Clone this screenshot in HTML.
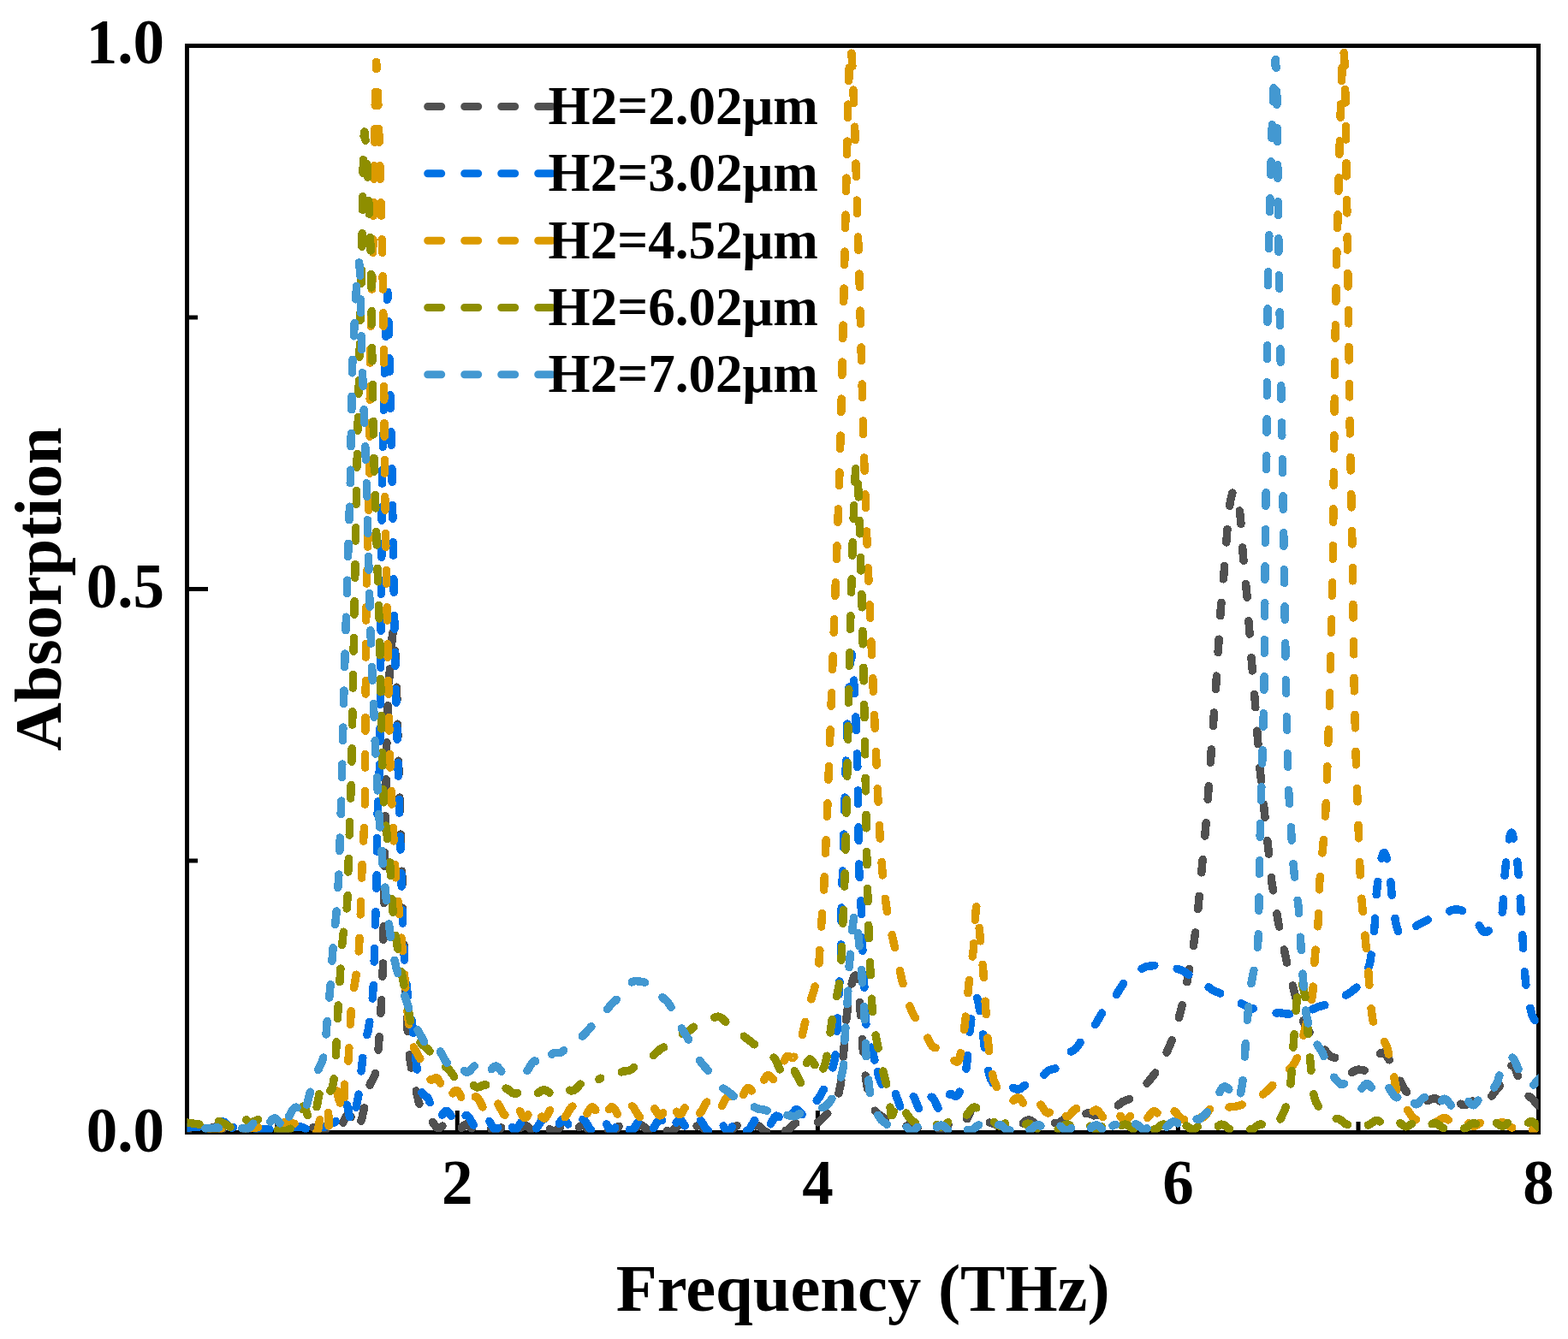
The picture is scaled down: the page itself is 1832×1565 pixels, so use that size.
<!DOCTYPE html>
<html><head><meta charset="utf-8"><title>Absorption vs Frequency</title>
<style>
html,body{margin:0;padding:0;background:#fff;}
svg{display:block;}
text{font-family:"Liberation Serif","Times New Roman",serif;font-weight:bold;fill:#000;}
</style></head>
<body>
<svg width="1832" height="1565" viewBox="0 0 1832 1565">
<rect x="0" y="0" width="1832" height="1565" fill="#fff"/>
<defs><clipPath id="pc"><rect x="218.5" y="53.5" width="1579.0" height="1270.0"/></clipPath></defs>
<g stroke="#000" stroke-width="5" fill="none">
<rect x="218.5" y="53.5" width="1579.0" height="1270.0"/>
<line x1="534.3" y1="1323.5" x2="534.3" y2="1298"/><line x1="955.4" y1="1323.5" x2="955.4" y2="1298"/><line x1="1376.4" y1="1323.5" x2="1376.4" y2="1298"/><line x1="323.8" y1="1323.5" x2="323.8" y2="1311"/><line x1="744.8" y1="1323.5" x2="744.8" y2="1311"/><line x1="1165.9" y1="1323.5" x2="1165.9" y2="1311"/><line x1="1587.0" y1="1323.5" x2="1587.0" y2="1311"/><line x1="218.5" y1="688.5" x2="243" y2="688.5"/><line x1="218.5" y1="1006.0" x2="231" y2="1006.0"/><line x1="218.5" y1="371.0" x2="231" y2="371.0"/>
</g>
<g font-size="73" text-anchor="end">
<text x="191.9" y="74.1">1.0</text>
<text x="191.9" y="709.7">0.5</text>
<text x="191.9" y="1345.5">0.0</text>
</g>
<g font-size="73" text-anchor="middle">
<text x="534.3" y="1406.7">2</text>
<text x="955.4" y="1406.7">4</text>
<text x="1376.4" y="1406.7">6</text>
<text x="1797.5" y="1406.7">8</text>
</g>
<text font-size="78.6" x="719.7" y="1531.8">Frequency (THz)</text>
<text font-size="78.3" transform="translate(71,877.8) rotate(-90)" x="0" y="0">Absorption</text>
<g fill="none" shape-rendering="crispEdges" stroke-width="9.5" stroke-linecap="round" stroke-linejoin="round" stroke-dasharray="15.5 27.5" clip-path="url(#pc)">
<path d="M218.0,1321.9L225.8,1318.2 227.9,1317.7 231.4,1318.3 236.4,1320.7 239.0,1321.3 241.6,1321.0 248.3,1317.7 250.8,1317.1 253.3,1317.5 259.0,1320.2 262.0,1321.0 265.0,1320.5 271.1,1317.6 274.1,1317.3 277.1,1318.3 282.1,1321.0 285.0,1321.7 287.0,1321.4 293.0,1318.6 296.0,1318.0 299.0,1318.6 304.0,1321.1 307.0,1321.9 310.0,1321.4 316.0,1318.2 318.0,1317.6 321.0,1317.8 327.0,1320.5 330.0,1321.2 333.0,1320.5 338.0,1317.9 341.0,1317.0 344.1,1317.5 349.4,1320.2 352.6,1321.1 355.8,1320.4 361.2,1317.8 364.4,1317.3 367.4,1318.2 374.2,1321.5 377.6,1321.5 382.4,1319.6 384.7,1319.2 390.7,1322.3 393.4,1322.5 395.7,1321.6 397.6,1319.5 403.6,1306.2 405.4,1304.1 407.2,1303.0 408.0,1303.0 409.1,1303.9 417.0,1319.5 418.3,1319.9 420.0,1317.2 422.8,1307.1 425.5,1294.9 427.5,1282.9 429.2,1276.9 433.0,1266.0 437.8,1257.2 439.6,1251.7 441.1,1240.6 443.5,1206.3 446.2,1160.0 447.5,1127.0 451.6,875.6 452.8,836.0 454.2,801.4 456.3,769.3 458.3,744.0 459.7,736.0 460.4,739.3 461.2,750.1 463.4,799.8 465.7,895.5 469.9,1027.9 470.7,1079.0 472.7,1119.6 475.0,1185.9 477.5,1223.5 478.9,1237.6 480.8,1249.4 489.0,1287.2 491.2,1295.0 492.5,1298.1 494.0,1300.1 499.4,1302.8 500.9,1304.2 507.5,1314.6 510.1,1317.7 512.0,1318.5 513.9,1318.2 520.0,1313.9 522.6,1313.5 525.4,1315.0 531.3,1321.0 533.3,1321.9 534.4,1321.9 536.4,1320.9 542.8,1314.7 545.0,1314.0 547.8,1315.1 553.5,1321.1 556.5,1322.4 559.5,1321.2 564.5,1316.1 567.6,1314.7 570.7,1316.1 575.9,1321.5 579.0,1323.0 581.9,1321.8 587.6,1316.2 590.4,1315.1 593.3,1316.3 599.0,1322.0 601.9,1323.1 604.9,1321.6 610.0,1316.3 612.1,1315.1 613.2,1315.0 616.6,1316.8 621.7,1322.0 624.2,1323.0 626.8,1322.1 633.2,1315.9 636.0,1315.0 638.8,1316.5 644.6,1322.2 646.6,1323.0 649.6,1322.0 655.7,1316.0 658.8,1315.0 661.9,1316.8 667.1,1322.1 669.2,1323.0 670.2,1322.9 672.4,1321.9 677.7,1316.5 680.9,1315.0 684.1,1316.4 689.4,1321.8 691.5,1322.9 692.6,1323.0 695.8,1321.2 700.9,1316.0 703.8,1315.0 706.7,1316.4 711.5,1321.4 714.4,1323.0 717.3,1322.1 723.2,1316.2 726.2,1315.0 729.2,1316.3 734.2,1321.4 737.2,1323.0 740.2,1321.9 746.3,1315.9 749.3,1315.0 752.3,1316.8 757.4,1322.0 760.5,1323.0 763.5,1321.3 768.6,1316.1 771.7,1315.0 774.7,1316.6 779.8,1321.8 782.9,1323.0 785.9,1321.5 792.0,1315.6 794.0,1315.0 797.0,1316.3 802.0,1321.4 805.1,1323.0 808.2,1321.9 813.4,1316.6 816.6,1315.1 819.8,1316.5 825.1,1321.9 827.3,1323.1 828.4,1323.1 830.5,1322.2 837.0,1316.0 839.2,1315.3 840.3,1315.4 842.5,1316.8 847.9,1322.2 850.0,1323.3 851.1,1323.3 853.2,1322.4 859.5,1316.3 861.6,1315.5 864.7,1316.6 869.8,1321.8 872.8,1323.4 875.7,1322.5 881.4,1316.8 884.2,1315.4 886.9,1316.2 892.9,1322.0 894.6,1322.9 896.2,1323.1 899.3,1321.4 904.9,1315.6 907.2,1314.6 908.3,1314.8 910.5,1316.0 915.8,1321.0 918.8,1321.8 921.6,1320.2 927.1,1314.1 929.8,1312.7 931.5,1313.3 936.1,1316.3 938.4,1316.8 940.6,1316.4 944.9,1314.8 952.5,1313.0 956.0,1311.5 958.5,1309.7 972.5,1295.7 976.2,1289.7 979.3,1280.7 982.2,1267.1 983.4,1257.9 988.6,1193.4 991.3,1170.0 994.6,1151.5 997.4,1142.2 999.0,1140.0 999.9,1141.0 1001.0,1144.7 1003.7,1160.1 1008.4,1228.3 1010.7,1253.7 1012.7,1268.2 1016.8,1288.0 1018.6,1292.5 1020.6,1295.9 1023.2,1299.2 1027.0,1302.7 1032.2,1306.3 1037.5,1309.3 1040.1,1310.5 1046.6,1312.2 1053.6,1317.1 1055.7,1317.7 1057.8,1317.3 1062.7,1314.0 1065.5,1313.2 1068.5,1314.6 1074.7,1320.2 1077.8,1320.8 1080.0,1319.8 1085.2,1315.1 1088.4,1313.9 1091.4,1315.1 1097.3,1320.0 1100.0,1320.5 1102.2,1319.5 1107.8,1314.6 1111.0,1313.4 1113.1,1314.0 1117.1,1317.0 1119.9,1317.5 1122.6,1316.0 1127.2,1311.9 1129.8,1307.9 1134.9,1296.9 1136.4,1294.8 1138.0,1294.0 1139.2,1294.3 1141.0,1296.0 1147.0,1305.9 1150.0,1309.0 1155.3,1311.8 1162.4,1313.9 1167.8,1316.3 1170.9,1316.3 1176.4,1312.7 1179.3,1311.8 1182.2,1312.7 1187.2,1315.8 1190.3,1316.2 1193.4,1314.5 1198.9,1309.8 1201.8,1308.9 1204.6,1309.8 1210.6,1313.9 1212.7,1314.3 1215.9,1313.0 1221.2,1308.7 1224.5,1307.8 1226.6,1308.4 1233.0,1312.7 1236.1,1313.1 1239.0,1311.5 1243.7,1307.4 1246.4,1306.2 1249.2,1306.5 1255.7,1310.1 1258.6,1310.0 1261.5,1308.0 1267.1,1302.3 1270.0,1301.1 1272.0,1301.2 1278.1,1303.9 1281.1,1303.5 1283.1,1302.2 1288.6,1296.1 1291.0,1294.1 1294.2,1293.3 1300.0,1294.9 1302.3,1294.6 1304.8,1293.1 1311.4,1287.8 1320.1,1284.2 1326.3,1279.7 1333.6,1273.0 1340.8,1265.3 1348.1,1256.3 1353.3,1248.9 1357.9,1241.0 1366.5,1222.6 1370.7,1212.2 1374.2,1201.6 1381.9,1172.0 1385.7,1154.0 1394.5,1105.0 1398.3,1078.1 1409.4,959.0 1420.5,805.0 1426.3,712.0 1430.6,663.0 1434.9,606.1 1436.1,594.2 1438.0,583.7 1439.8,576.4 1440.8,574.2 1441.4,573.7 1442.1,574.2 1443.4,576.6 1446.5,586.8 1447.9,594.2 1449.5,606.3 1452.1,646.0 1456.7,693.9 1461.8,766.0 1466.2,818.0 1471.8,895.9 1486.0,1032.0 1493.3,1077.1 1503.7,1125.7 1516.7,1176.5 1520.3,1188.0 1523.9,1196.1 1527.5,1202.5 1532.6,1210.2 1535.6,1213.7 1543.2,1220.1 1551.2,1231.9 1555.0,1234.9 1560.3,1236.4 1563.4,1238.2 1566.6,1241.8 1572.4,1250.4 1575.8,1253.3 1577.5,1253.6 1579.3,1253.4 1585.0,1250.5 1587.1,1250.1 1594.3,1251.1 1597.0,1250.5 1600.5,1247.2 1606.5,1237.4 1610.4,1233.0 1614.1,1230.3 1615.6,1230.2 1617.0,1230.7 1619.3,1233.0 1628.1,1245.8 1637.0,1266.0 1642.1,1274.9 1644.3,1276.8 1645.8,1277.5 1652.0,1277.9 1654.3,1278.6 1656.9,1280.4 1662.7,1285.6 1664.7,1286.7 1667.9,1286.8 1673.3,1284.3 1676.5,1283.8 1679.8,1285.2 1685.1,1289.2 1688.1,1290.3 1691.1,1289.7 1697.3,1286.6 1699.4,1286.4 1702.5,1287.5 1708.6,1291.4 1711.6,1291.7 1714.4,1290.4 1719.1,1287.3 1722.2,1286.4 1724.4,1286.9 1730.9,1290.5 1733.9,1290.6 1735.8,1289.6 1738.4,1287.1 1748.0,1274.2 1751.6,1270.1 1755.2,1264.0 1762.3,1248.9 1765.0,1245.9 1767.0,1245.2 1768.6,1246.1 1770.3,1248.9 1778.5,1272.1 1781.0,1277.2 1783.3,1279.4 1789.8,1283.7 1797.0,1291.8 1800.0,1294.4" stroke="#505050" stroke-dashoffset="13.9"/>
<path d="M218.0,1318.0L230.4,1317.3 239.0,1316.2 243.1,1315.0 252.7,1310.7 257.1,1310.0 260.2,1310.7 263.0,1312.0 268.4,1317.2 270.0,1318.0 271.9,1317.9 278.0,1316.0 280.7,1316.4 287.6,1318.5 292.5,1319.3 303.4,1320.0 316.2,1320.1 326.5,1319.6 350.2,1316.9 353.1,1317.3 358.1,1319.7 360.0,1320.0 361.7,1319.2 366.6,1314.4 368.0,1314.0 369.2,1315.2 371.2,1319.5 372.7,1320.1 375.2,1319.4 383.0,1315.0 391.3,1311.6 392.6,1310.1 394.1,1305.3 395.0,1304.0 398.0,1305.8 399.4,1305.7 401.1,1302.1 403.6,1293.2 405.0,1291.0 406.3,1293.9 409.0,1309.0 410.2,1312.9 411.0,1312.7 411.9,1311.3 414.3,1303.2 419.2,1278.4 425.1,1224.6 426.2,1218.7 429.8,1206.2 432.4,1190.6 435.1,1168.2 436.5,1148.9 439.9,1033.0 441.2,951.1 443.8,888.7 446.6,552.7 449.1,450.1 451.8,359.4 452.8,341.5 453.4,352.6 457.9,545.8 460.7,722.5 462.8,817.4 470.5,1077.9 472.6,1124.2 475.1,1153.7 478.2,1176.1 481.6,1196.6 487.3,1250.9 489.4,1265.3 491.1,1272.0 492.9,1276.8 495.0,1279.7 498.5,1282.1 500.2,1283.9 509.3,1305.0 511.1,1306.8 513.0,1306.9 514.9,1305.3 520.0,1299.0 521.8,1298.3 522.7,1298.5 525.6,1301.5 531.5,1312.5 533.6,1314.2 534.6,1314.3 536.7,1312.8 542.7,1304.4 544.5,1303.4 545.5,1303.5 548.3,1306.3 554.1,1316.5 556.1,1318.1 557.1,1318.1 559.2,1316.6 565.6,1307.3 567.8,1306.3 568.9,1306.7 570.9,1308.9 576.2,1318.0 578.1,1319.7 579.0,1320.0 579.9,1319.8 581.8,1318.3 587.5,1309.1 589.5,1307.5 590.5,1307.3 591.5,1307.6 593.5,1309.6 599.6,1319.3 601.6,1320.4 602.7,1320.1 604.8,1318.1 610.1,1309.4 612.3,1307.5 613.4,1307.5 615.6,1309.0 620.9,1317.8 623.6,1320.4 624.5,1320.6 626.3,1319.7 632.8,1309.6 634.7,1308.0 635.6,1307.7 636.6,1308.0 638.5,1309.7 644.3,1319.2 646.3,1320.8 647.2,1320.9 648.2,1320.5 650.2,1318.5 655.2,1310.2 657.3,1308.3 658.3,1308.1 659.3,1308.4 661.3,1310.3 667.5,1320.1 669.6,1321.2 670.6,1321.0 672.7,1319.0 678.9,1309.3 681.0,1308.3 683.1,1309.6 689.4,1319.6 691.6,1321.3 692.6,1321.4 694.7,1319.9 700.9,1310.1 702.9,1308.6 703.8,1308.5 704.8,1308.9 706.7,1310.9 712.6,1320.3 714.6,1321.5 715.6,1321.4 717.6,1319.8 722.6,1311.5 724.6,1309.2 725.7,1308.6 726.7,1308.7 728.7,1310.2 733.9,1318.6 735.9,1321.0 736.9,1321.5 738.0,1321.5 740.1,1320.0 745.2,1311.5 747.3,1309.1 748.3,1308.6 749.4,1308.7 751.5,1310.3 756.6,1318.8 758.7,1321.1 759.7,1321.5 760.7,1321.5 762.8,1319.8 767.9,1311.4 769.9,1309.1 771.0,1308.6 772.0,1308.6 774.0,1310.1 780.0,1319.7 781.9,1321.4 782.9,1321.5 783.9,1321.2 785.9,1319.2 790.7,1311.1 793.5,1308.6 794.5,1308.5 796.3,1309.8 802.2,1319.1 804.4,1321.3 805.4,1321.5 806.5,1321.2 808.7,1318.9 814.1,1310.2 816.3,1308.7 817.3,1308.7 819.5,1310.5 824.8,1319.4 826.9,1321.5 828.0,1321.8 830.1,1320.8 836.3,1311.1 838.3,1309.2 839.3,1308.9 840.3,1309.2 842.3,1311.1 847.3,1319.4 849.2,1321.5 850.2,1321.9 851.2,1321.9 853.1,1320.5 858.7,1311.4 861.4,1308.9 862.3,1308.9 864.0,1309.8 870.0,1319.0 872.3,1321.2 873.5,1321.3 875.7,1319.6 881.2,1310.3 883.3,1307.9 884.3,1307.4 885.4,1307.5 887.4,1309.0 893.3,1317.8 895.2,1319.0 896.1,1319.0 898.9,1316.5 905.0,1305.7 907.2,1304.1 909.3,1304.7 915.2,1312.5 917.0,1314.1 918.0,1314.3 918.9,1314.0 920.8,1312.2 926.4,1301.0 929.3,1297.3 930.2,1296.8 932.1,1297.3 938.8,1304.6 939.7,1305.0 941.5,1303.6 948.0,1292.5 952.3,1288.9 957.3,1282.4 965.2,1268.3 969.6,1258.1 972.9,1248.1 975.4,1238.1 976.7,1229.3 982.5,1116.0 983.1,1065.2 989.7,850.4 993.1,781.6 994.1,768.3 994.9,764.0 995.9,769.1 997.0,784.4 1000.6,855.1 1002.2,910.3 1003.7,1016.0 1006.6,1068.0 1007.7,1108.0 1010.0,1157.0 1010.8,1185.3 1011.7,1196.1 1013.6,1207.0 1021.9,1239.0" stroke="#0071e4" stroke-dashoffset="0.0"/>
<path d="M1021.9,1239.0L1027.1,1259.7 1033.5,1275.0 1035.5,1277.2 1036.9,1277.3 1042.2,1272.4 1043.8,1273.5 1046.3,1278.5 1051.7,1293.4 1053.6,1296.2 1054.6,1296.7 1055.6,1296.4 1057.6,1293.8 1062.8,1282.6 1064.8,1280.3 1065.9,1280.3 1068.0,1282.4 1074.0,1296.9 1076.0,1299.7 1077.1,1300.1 1079.1,1298.6 1085.3,1285.2 1087.3,1282.6 1088.3,1282.2 1089.2,1282.5 1091.1,1284.9 1097.1,1297.3 1099.1,1298.7 1100.1,1298.4 1102.0,1295.7 1106.6,1283.4 1109.2,1279.2 1111.0,1278.5 1115.5,1281.1 1117.1,1281.4 1118.6,1280.6 1120.0,1278.9 1124.4,1268.9 1128.0,1255.2" stroke="#0071e4" stroke-dashoffset="29.0"/>
<path d="M1128.0,1255.2L1129.5,1245.0 1131.8,1215.9 1135.1,1188.5 1138.5,1171.5 1139.8,1167.3 1141.0,1165.5 1142.5,1168.6 1144.3,1178.4 1147.2,1197.4 1150.8,1228.5 1153.3,1244.0 1155.4,1254.4 1157.7,1261.3 1161.9,1268.6 1164.1,1270.5 1167.5,1272.3 1171.3,1272.9 1177.8,1270.1 1180.0,1269.6 1186.6,1272.8 1189.6,1273.4 1192.6,1272.2 1200.9,1265.5 1203.6,1264.8 1210.2,1265.2 1212.8,1264.2 1215.4,1261.9 1221.4,1254.3 1224.0,1251.8 1226.6,1250.5 1232.4,1249.2 1235.6,1247.2 1238.5,1243.8 1246.5,1232.4 1249.3,1230.1 1254.9,1227.1 1257.6,1224.8 1260.2,1221.3 1269.3,1206.7 1271.8,1204.0 1277.9,1199.2 1280.3,1196.5 1291.1,1177.9 1294.2,1174.0 1302.1,1166.2 1310.5,1152.6 1313.9,1148.0 1317.6,1144.6 1333.6,1132.6 1339.5,1129.7 1348.5,1128.5 1355.7,1126.9 1358.8,1126.8 1361.9,1127.3 1370.0,1130.8 1379.6,1133.5 1384.2,1135.9 1394.1,1143.1 1405.5,1148.6 1416.7,1157.2 1428.3,1162.2 1439.4,1169.4 1450.2,1172.8 1461.4,1178.5 1473.0,1180.1 1484.0,1183.9 1487.1,1184.2 1495.1,1183.7 1504.0,1185.2 1508.1,1185.2 1518.1,1182.4 1529.0,1181.6 1540.7,1176.6 1552.3,1173.6 1562.8,1167.0 1573.6,1162.7 1579.2,1158.9 1588.7,1150.9 1591.8,1147.7 1594.7,1143.2 1597.1,1137.7 1600.8,1124.3 1603.6,1105.3 1606.3,1079.7 1608.2,1045.2 1611.1,1018.8 1613.9,1003.9 1616.3,997.0 1617.4,996.7 1618.6,998.4 1622.5,1009.7 1623.9,1019.0 1626.3,1047.9 1630.6,1077.7 1633.2,1087.6 1634.6,1090.5 1636.5,1092.6 1639.5,1093.7 1643.3,1092.5 1655.9,1081.3 1667.5,1075.4 1675.2,1070.6 1679.4,1069.1 1687.8,1067.4 1696.8,1063.5 1700.5,1062.8 1703.8,1063.0 1707.5,1064.1 1715.8,1067.0 1720.0,1069.3 1723.3,1073.1 1731.4,1087.2 1733.9,1089.4 1736.0,1089.6 1738.4,1088.5 1740.9,1086.7 1749.2,1078.8 1753.0,1073.6 1754.8,1069.0 1756.1,1060.5 1756.8,1035.9 1760.5,998.5 1763.6,979.5 1764.8,975.1 1766.0,973.2 1766.8,974.0 1767.5,976.1 1769.4,984.4 1771.7,998.3 1773.3,1012.4 1775.8,1043.1 1781.4,1136.7 1783.0,1152.2 1786.5,1173.3 1789.8,1185.5 1791.3,1189.3 1793.5,1192.9 1800.0,1200.8" stroke="#0071e4" stroke-dashoffset="36.9"/>
<path d="M218.0,1319.0L279.4,1319.0 293.3,1318.6 305.4,1317.2 326.9,1312.5 334.4,1311.9 340.1,1312.4 347.0,1314.1 365.1,1320.6 369.4,1323.0 370.4,1323.0 371.7,1320.1 373.4,1309.4 374.4,1307.0 375.7,1308.4 381.4,1320.6 383.5,1323.0 384.2,1320.2 383.7,1301.0 384.4,1293.7 386.1,1287.6 389.9,1278.3 391.4,1276.0 392.5,1275.1 393.5,1275.0 394.1,1276.0 395.3,1283.0 398.9,1293.4 401.3,1298.6 402.1,1298.9 402.4,1297.8 402.3,1268.6 403.0,1264.7 405.4,1257.3 406.5,1248.9 410.5,1176.0 412.1,1163.0 417.4,1132.0 419.2,1113.0 421.0,1077.0 423.3,1003.0 426.3,955.1 427.9,701.3 431.9,555.9 432.5,409.9 435.6,300.0 438.5,106.1 439.7,72.5 441.3,104.2 447.0,307.2 448.4,412.9 449.6,573.4 454.4,835.6 456.1,902.7 460.6,995.9 462.4,1024.7 468.8,1093.3 475.9,1180.6 479.1,1209.9 480.3,1216.4 482.2,1222.0 491.8,1239.2 498.4,1255.2 500.6,1259.5 502.5,1261.6 503.9,1262.1 505.2,1261.9 509.6,1259.6 511.2,1260.3 514.3,1265.4 520.0,1279.6 522.6,1282.9 523.5,1283.1 525.3,1282.4 530.9,1275.6 532.7,1274.5 533.6,1274.6 534.5,1275.1 536.4,1277.5 542.3,1289.6 544.3,1292.1 545.3,1292.5 546.3,1292.4 548.2,1290.9 553.9,1282.6 556.0,1281.7 557.0,1282.0 560.1,1286.1 565.0,1296.2 567.0,1298.4 568.0,1298.8 569.0,1298.6 571.0,1296.8 576.0,1289.0 577.9,1287.4 578.9,1287.2 579.9,1287.6 581.8,1289.8 587.8,1301.2 589.8,1303.1 590.8,1303.3 591.9,1302.9 593.9,1300.7 598.8,1292.7 600.8,1291.1 601.8,1291.1 602.8,1291.6 604.8,1294.0 610.9,1305.1 612.9,1306.5 613.9,1306.4 616.0,1304.5 621.0,1295.9 623.0,1293.6 624.0,1293.2 625.0,1293.3 626.9,1295.0 632.9,1305.3 634.9,1307.0 635.9,1307.1 636.9,1306.6 639.0,1304.2 644.0,1295.2 646.0,1293.2 647.0,1293.0 648.0,1293.3 649.9,1295.3 654.9,1304.1 656.9,1306.4 657.8,1306.9 658.8,1306.8 660.8,1305.2 665.9,1296.3 667.9,1293.7 669.0,1293.1 670.0,1293.1 671.9,1294.5 677.9,1304.9 679.9,1307.1 680.9,1307.4 681.9,1307.2 683.9,1305.2 688.9,1296.4 691.0,1294.2 692.0,1293.9 693.0,1294.1 695.0,1296.0 700.0,1304.9 702.0,1307.4 703.0,1307.9 704.0,1307.9 706.0,1306.3 712.1,1295.7 714.1,1293.9 715.1,1293.7 716.1,1294.1 718.1,1296.2 723.1,1304.9 725.0,1306.9 726.0,1307.2 727.0,1306.9 729.0,1304.9 734.1,1295.5 736.2,1293.0 737.2,1292.5 738.2,1292.6 740.2,1294.2 745.3,1302.9 747.3,1305.2 748.3,1305.6 749.4,1305.4 751.4,1303.6 757.5,1292.6 759.5,1290.9 760.5,1290.8 762.6,1292.2 768.7,1302.2 770.7,1303.8 771.7,1303.8 773.8,1302.3 779.9,1291.4 781.9,1289.4 782.9,1289.1 783.9,1289.4 785.9,1291.5 792.0,1301.7 794.0,1302.7 795.1,1302.4 797.1,1300.3 802.1,1291.2 804.1,1288.9 805.1,1288.5 806.2,1288.6 808.2,1290.3 813.2,1298.9 815.2,1301.2 816.3,1301.6 817.3,1301.4 819.3,1299.4 824.4,1289.8 826.5,1287.0 827.5,1286.3 828.5,1286.2 830.5,1287.4 836.5,1296.7 838.5,1298.1 839.5,1298.0 841.5,1296.3 847.4,1284.7 850.3,1281.2 851.2,1281.0 853.1,1282.0 858.9,1290.0 860.8,1291.3 861.7,1291.2 862.7,1290.7 864.6,1288.1 870.8,1274.6 873.5,1271.7 874.4,1271.6 876.2,1272.4 880.6,1277.9 882.3,1279.3 884.1,1279.5 884.9,1278.9 887.5,1275.1 893.2,1261.0 895.7,1257.4 896.5,1256.9 898.0,1256.8 899.6,1257.7 904.2,1262.1 906.5,1262.1 908.0,1260.7 909.4,1258.1 915.7,1240.8 918.3,1235.8 919.6,1234.7 920.9,1234.4 925.3,1236.4 926.5,1236.5 928.8,1234.2 932.0,1226.9 937.1,1210.5 944.1,1180.0 952.3,1152.8 955.3,1140.0 957.0,1125.2 958.5,1098.0 962.6,1040.5 966.9,939.6 980.5,566.7 983.1,469.4 991.0,114.9 992.5,71.0 993.2,60.5 993.9,57.0 994.9,62.7 996.0,79.9 998.7,150.1 1004.3,334.0 1008.8,513.6 1012.6,624.0 1025.3,923.1 1028.1,977.3 1030.6,1014.6 1033.6,1045.7 1037.2,1070.0 1053.9,1146.1 1061.7,1172.5 1065.3,1182.4 1068.7,1188.5 1074.6,1195.1 1077.3,1199.2 1087.2,1220.0 1088.9,1222.4 1091.2,1224.2 1097.1,1225.6 1099.6,1226.8 1102.1,1229.2 1107.0,1235.8 1109.8,1238.0 1114.0,1239.2 1118.1,1241.1 1119.0,1241.0 1119.9,1240.2 1120.9,1237.7 1123.8,1223.9 1125.6,1212.3 1128.2,1189.4 1132.1,1148.5 1137.3,1110.1 1140.0,1064.8 1141.0,1058.5 1141.7,1060.9 1142.6,1068.2 1148.7,1133.0 1154.1,1215.1 1158.4,1250.7 1161.1,1262.5 1165.2,1271.9 1169.3,1277.3 1173.0,1280.5 1178.3,1286.2 1180.3,1287.4 1182.3,1287.3 1183.4,1286.8 1187.8,1283.1 1190.5,1283.1 1193.4,1285.9 1198.4,1293.6 1200.4,1295.6 1201.5,1296.0 1202.5,1296.0 1204.6,1294.8 1209.8,1289.4 1211.9,1288.4 1213.0,1288.6 1216.0,1291.2 1221.8,1299.6 1223.8,1300.8 1224.8,1300.9 1226.8,1300.0 1232.7,1293.8 1234.7,1293.0 1235.7,1293.1 1238.8,1295.7 1243.9,1302.9 1245.9,1304.5 1246.9,1304.7 1248.0,1304.5 1250.0,1303.1 1254.9,1297.3 1256.9,1296.0 1257.9,1295.8 1258.9,1296.1 1260.9,1297.7 1266.0,1304.5 1268.1,1306.2 1269.1,1306.5 1270.1,1306.4 1272.1,1305.1 1277.2,1298.9 1280.2,1297.0 1281.2,1297.2 1283.2,1298.5 1288.2,1305.1 1291.4,1307.6 1292.4,1307.7 1294.5,1306.7 1299.6,1300.6 1302.7,1298.6 1303.7,1298.7 1305.7,1300.0 1311.8,1307.9 1313.9,1309.2 1314.9,1309.3 1317.9,1307.4 1323.0,1301.1 1325.0,1299.7 1326.0,1299.6 1329.0,1301.4 1335.0,1308.5 1337.0,1309.2 1338.0,1309.0 1340.0,1307.6 1346.0,1299.9 1348.0,1298.7 1349.0,1298.7 1351.0,1299.7 1357.0,1307.0 1359.0,1308.3 1360.0,1308.4 1362.0,1307.5 1368.0,1300.2 1370.0,1298.8 1371.0,1298.6 1372.0,1298.8 1374.1,1300.3 1379.1,1306.8 1382.1,1308.7 1383.1,1308.7 1385.0,1307.4 1391.0,1299.7 1393.0,1298.2 1394.0,1298.0 1397.1,1299.6 1402.1,1305.3 1404.1,1306.4 1405.1,1306.4 1408.1,1304.2 1413.1,1296.9 1416.0,1294.4 1417.0,1294.3 1418.9,1295.0 1423.8,1299.8 1425.9,1300.7 1426.9,1300.7 1428.9,1299.8 1436.0,1294.0 1438.0,1293.5 1443.9,1293.3 1450.6,1291.3 1463.1,1286.5 1472.1,1281.7 1480.1,1275.6 1495.8,1259.3 1507.8,1248.5 1512.3,1242.9 1515.7,1236.3 1519.1,1225.9 1528.7,1187.0 1531.9,1172.0 1533.9,1159.0 1536.1,1121.0 1540.2,1077.0 1541.6,1033.0 1546.9,976.4 1549.2,941.8 1553.5,818.1 1557.2,659.6 1560.0,399.9 1561.7,301.0 1566.6,119.2 1568.4,72.5 1569.8,56.5 1571.0,73.1 1572.1,122.6 1577.4,510.5 1580.0,640.0 1582.1,795.8 1584.2,885.3 1588.3,1001.0 1590.3,1045.0 1598.6,1133.0 1601.3,1172.9 1603.7,1190.9 1605.7,1199.1 1609.0,1207.0 1612.7,1212.9 1617.3,1216.9 1620.5,1223.8 1627.7,1253.1 1632.2,1277.6 1634.6,1285.7 1637.1,1289.9 1644.0,1296.6 1650.0,1305.4 1652.7,1308.1 1654.7,1308.8 1656.7,1308.4 1662.9,1304.5 1665.1,1304.1 1667.3,1304.8 1673.3,1309.9 1676.3,1311.4 1679.4,1310.8 1684.7,1307.3 1687.8,1306.5 1690.9,1307.8 1696.0,1312.3 1698.0,1313.5 1701.0,1313.7 1707.0,1310.2 1710.1,1309.3 1713.2,1310.4 1718.5,1314.9 1721.4,1316.2 1724.3,1315.8 1730.3,1311.6 1733.3,1310.7 1736.4,1312.0 1741.7,1316.1 1744.8,1317.0 1746.9,1316.5 1753.0,1312.3 1755.1,1311.6 1758.2,1312.4 1763.7,1316.8 1767.0,1318.2 1769.2,1317.9 1775.7,1313.6 1777.8,1313.0 1780.8,1313.8 1787.0,1319.0 1789.9,1320.2 1792.7,1319.7 1797.8,1316.7 1800.0,1316.1" stroke="#dc9a00" stroke-dashoffset="17.7"/>
<path d="M218.0,1312.0L232.0,1314.0 241.4,1318.5 244.2,1319.1 245.8,1318.7 247.2,1317.4 251.5,1310.9 253.0,1310.0 254.6,1310.0 258.3,1311.3 272.7,1319.3 276.2,1320.2 277.7,1319.6 278.9,1318.3 282.9,1309.4 283.9,1307.8 285.0,1307.0 286.6,1307.5 290.0,1311.0 292.0,1312.0 294.7,1311.6 300.9,1308.7 304.0,1307.9 305.8,1308.2 308.1,1309.5 316.7,1317.9 320.0,1320.0 328.1,1321.9 332.2,1321.9 335.1,1321.3 338.6,1319.7 341.9,1317.2 348.4,1309.7 350.5,1305.9 353.3,1295.0 354.0,1293.6 354.7,1293.0 355.5,1293.5 356.7,1296.0 361.7,1309.8 362.6,1310.9 363.9,1310.6 366.4,1305.7 370.1,1294.1 373.3,1276.7 375.4,1268.6 376.6,1265.8 377.6,1265.0 378.7,1265.6 384.2,1273.8 386.0,1275.0 386.8,1274.4 387.9,1272.4 389.5,1265.6 391.7,1248.8 394.5,1188.0 399.3,1108.6 400.7,1094.4 405.1,1063.1 406.3,1045.0 406.9,1016.0 410.6,904.5 417.1,541.7 422.8,299.2 424.5,177.9 425.1,159.7 425.8,154.0 427.2,165.4 429.2,198.9 433.6,304.2 434.7,409.9 436.8,530.8 443.6,743.0 446.3,879.5 448.0,930.3 449.8,955.2 455.2,1001.9 458.5,1058.6 460.7,1083.0 466.4,1121.0 480.2,1197.2 482.9,1205.7 486.6,1212.7 492.9,1220.6 499.3,1225.8 501.9,1228.7 509.4,1241.2 511.5,1243.9 514.5,1245.8 519.8,1246.7 522.9,1248.4 525.4,1251.1 530.6,1258.4 533.3,1261.0 536.0,1261.9 542.5,1260.3 545.4,1260.7 548.3,1263.0 554.0,1269.4 556.9,1270.9 559.9,1270.6 564.8,1268.1 567.9,1267.9 570.9,1269.7 576.0,1274.6 578.0,1275.9 581.1,1276.1 587.1,1272.5 590.2,1271.8 593.2,1272.9 598.3,1277.2 601.4,1278.5 604.4,1277.8 609.6,1274.1 612.7,1272.9 615.8,1273.8 620.9,1277.9 623.9,1279.3 627.0,1278.6 633.2,1274.3 636.3,1273.8 638.4,1274.6 644.6,1279.0 646.6,1279.5 649.7,1278.4 655.7,1273.1 658.7,1271.8 661.7,1272.3 667.5,1275.0 670.5,1274.5 672.5,1273.1 678.4,1266.8 681.4,1265.2 684.5,1265.7 689.2,1268.0 692.1,1268.2 695.0,1266.6 699.9,1261.5" stroke="#8e8e00" stroke-dashoffset="0.0"/>
<path d="M699.9,1261.5L701.8,1260.0 703.8,1259.3 705.7,1259.4 711.6,1261.1 714.5,1260.7 717.4,1259.2 725.7,1253.1 728.6,1252.1 735.0,1251.3 737.7,1250.1 749.2,1240.4 751.8,1239.3 757.8,1237.7 760.4,1236.4 772.0,1225.6 782.6,1221.1 793.5,1210.6 796.9,1208.6 804.8,1205.4 816.0,1195.1 820.0,1193.5 827.5,1192.9 835.8,1188.7 838.8,1188.1 840.7,1188.4 843.4,1189.9 851.4,1197.7 854.6,1199.8 860.9,1202.9 869.8,1211.7 882.3,1221.5 896.3,1231.5 904.2,1236.2 906.6,1239.3 912.3,1252.9 914.6,1255.9 915.6,1255.8 916.2,1255.2 920.3,1247.4 921.9,1246.9 923.9,1247.6 928.1,1251.3 935.1,1264.8 936.6,1266.7 937.8,1266.8 939.4,1262.8 942.2,1243.1 943.7,1240.0 946.1,1238.0 947.5,1238.2 949.2,1240.1 956.3,1251.9 958.0,1253.0 959.6,1252.4" stroke="#8e8e00" stroke-dashoffset="13.3"/>
<path d="M959.6,1252.4L961.0,1250.6 963.3,1246.4 965.6,1237.6 972.8,1188.0 980.8,1149.0 982.6,1131.8 987.6,1011.6 992.8,757.4 996.5,624.5 998.8,562.7 999.7,547.8 1000.6,543.0 1001.8,552.0 1003.2,579.7 1007.1,704.2 1009.2,793.9 1013.1,1020.5 1015.2,1098.0 1018.7,1173.1 1020.3,1191.1 1023.3,1211.1 1029.6,1243.2 1038.0,1277.0 1041.2,1303.7 1042.0,1303.7 1042.7,1302.7 1047.5,1291.7 1050.0,1289.4 1052.0,1289.0 1053.5,1290.5 1057.4,1299.1 1061.1,1304.5 1064.5,1308.7 1067.8,1311.3 1071.7,1313.1 1079.6,1315.1 1082.5,1314.4 1087.8,1311.5 1090.0,1311.4 1097.1,1316.3 1099.2,1317.0 1102.5,1316.0 1107.8,1311.7 1110.7,1310.3 1113.6,1310.6 1119.5,1313.2 1122.3,1312.6 1125.0,1310.1 1128.0,1305.1 1134.5,1296.6 1136.6,1294.7 1138.7,1294.0 1140.1,1294.4 1142.2,1296.2 1149.2,1305.3 1152.5,1307.3 1158.7,1309.2 1165.9,1315.4 1167.8,1316.2 1169.5,1316.1 1175.8,1312.4 1178.7,1311.8 1181.7,1313.0 1187.8,1317.9 1190.0,1318.5 1192.1,1318.1 1197.7,1314.3 1200.9,1313.1 1203.5,1313.7 1209.9,1318.6 1212.8,1319.5 1215.7,1318.6 1220.7,1314.9 1223.7,1313.7 1226.8,1314.6 1232.0,1318.6 1235.1,1319.8 1238.3,1318.9 1243.5,1314.9 1246.7,1313.9 1249.8,1315.0 1256.0,1319.5 1258.0,1320.0 1261.0,1319.0 1266.0,1315.2 1268.9,1314.1 1271.9,1314.8 1277.7,1319.2 1280.7,1320.1 1283.6,1319.1 1288.5,1315.3 1291.4,1314.1 1294.4,1314.7 1300.4,1319.1 1303.4,1320.0 1306.4,1318.9 1311.6,1315.0 1314.7,1314.0 1316.8,1314.6 1322.8,1319.0 1325.6,1320.0 1328.5,1319.2 1334.4,1314.9 1337.3,1314.0 1340.3,1315.1 1346.4,1319.5 1348.4,1320.0 1351.5,1319.0 1356.6,1315.1 1359.7,1314.0 1362.7,1314.9 1367.9,1318.9 1371.0,1320.0 1374.0,1319.1 1379.1,1315.2 1382.2,1314.0 1385.2,1314.9 1390.2,1318.7 1393.2,1320.0 1396.1,1319.4 1402.1,1315.0 1405.3,1314.0 1407.4,1314.6 1412.8,1318.7 1416.1,1320.1 1419.4,1319.1 1424.9,1315.0 1427.0,1314.2 1430.3,1315.0 1435.7,1319.1 1438.9,1320.3 1441.0,1319.9 1447.2,1315.4 1450.1,1314.3 1453.0,1315.2 1458.6,1319.3 1461.2,1320.2 1463.7,1319.7 1470.3,1314.7 1472.7,1313.9 1475.1,1314.5 1481.4,1318.9 1484.2,1318.8 1492.2,1313.3 1496.3,1307.6 1502.2,1294.5 1506.0,1280.0 1507.5,1270.1 1508.8,1256.8 1512.7,1199.0 1515.3,1167.5 1517.7,1148.8 1518.4,1145.7 1519.0,1145.0 1520.4,1147.0 1522.4,1153.2 1525.9,1169.3 1528.8,1217.6 1533.8,1271.5 1535.3,1281.3 1537.1,1287.2 1540.1,1292.9 1551.7,1305.7 1554.2,1307.8 1556.8,1308.5 1560.8,1307.4 1563.6,1307.4 1566.2,1308.7 1572.0,1313.7 1575.1,1314.6 1577.3,1314.0 1584.0,1309.3 1586.2,1308.8 1589.5,1310.1 1594.8,1314.2 1597.9,1315.1 1599.9,1314.5 1606.0,1310.2 1608.0,1309.5 1611.1,1310.1 1617.2,1314.8 1620.3,1315.7 1623.3,1314.7 1629.5,1310.5 1632.5,1310.4 1634.5,1311.4 1639.6,1315.6 1642.6,1316.8 1645.7,1316.0 1650.8,1312.5 1653.8,1311.5 1656.9,1312.6 1662.0,1316.8 1665.0,1318.1 1668.1,1317.4 1674.1,1313.1 1677.1,1312.6 1680.2,1314.0 1685.2,1318.0 1688.3,1318.9 1691.3,1317.7 1696.4,1313.9 1699.5,1313.0 1702.5,1314.1 1707.5,1317.9 1710.5,1318.9 1713.5,1317.9 1718.5,1313.9 1721.6,1312.6 1724.6,1313.4 1729.6,1317.0 1732.7,1318.2 1735.7,1317.4 1741.8,1312.4 1744.9,1311.4 1748.0,1312.3 1753.2,1315.7 1756.3,1316.1 1759.4,1314.4 1764.4,1310.1 1767.4,1309.1 1770.3,1310.1 1776.0,1314.4 1778.5,1315.3 1781.1,1314.8 1787.7,1311.0 1790.3,1311.1 1792.7,1312.4 1797.6,1317.2 1800.0,1318.9" stroke="#8e8e00" stroke-dashoffset="38.9"/>
<path d="M218.0,1319.0L238.0,1319.0 254.0,1318.0 266.0,1319.0 277.0,1318.0 288.2,1319.3 290.0,1319.0 291.7,1318.0 296.8,1312.1 299.0,1311.0 301.2,1312.3 305.6,1317.8 308.0,1319.0 309.4,1318.5 310.9,1317.3 317.9,1308.6 319.5,1307.4 321.0,1307.0 322.4,1307.5 324.7,1309.6 332.5,1320.3 333.5,1321.0 334.4,1320.8 335.6,1318.0 337.6,1304.9 341.0,1298.5 343.9,1295.0 346.0,1294.0 347.3,1294.7 352.4,1303.7 353.5,1304.9 354.4,1304.8 355.5,1303.4 365.4,1264.8 367.6,1259.0 376.2,1241.3 378.8,1232.7 380.3,1221.7 382.0,1195.0 386.1,1151.0 389.2,1105.0 393.3,1064.0 396.1,1018.0 398.8,932.3 402.4,786.9 409.4,560.3 411.7,426.1 416.0,343.5 418.0,316.4 419.5,307.0 420.1,310.4 420.7,321.4 422.5,408.8 428.0,554.5 432.6,729.9 439.2,889.8 443.2,958.1 447.5,1014.7 454.4,1080.0 457.0,1100.0 459.8,1116.5 462.9,1130.8 466.9,1145.6 480.2,1186.0 487.5,1203.0 498.2,1222.4 500.8,1226.2 503.2,1227.3 504.8,1226.8 508.1,1224.4 510.0,1224.0 511.0,1224.4 513.4,1226.9 519.6,1238.8 522.1,1242.1 524.8,1242.9 531.2,1239.2 533.1,1239.1 534.1,1239.5 537.0,1242.8 542.7,1251.8 545.5,1253.5 548.5,1252.1 553.5,1246.4 555.5,1245.2 556.6,1245.1 559.7,1247.3 564.9,1254.2 567.0,1255.6 568.0,1255.8 569.1,1255.5 571.1,1253.8 576.1,1247.5 579.1,1246.0 581.1,1246.8 582.2,1247.8 587.9,1254.8 590.2,1255.8 591.3,1255.6 593.6,1253.8 599.2,1246.4" stroke="#4398d1" stroke-dashoffset="21.0"/>
<path d="M599.2,1246.4L601.3,1245.1 603.3,1245.5 605.3,1247.0 610.3,1252.8 612.9,1253.8 613.9,1253.5 615.7,1252.0 621.2,1243.2 622.7,1241.3 624.3,1240.1 627.0,1240.3 632.7,1244.9 634.7,1245.3 635.8,1245.0 637.8,1243.1 642.9,1234.4 645.9,1231.1 648.8,1230.3 653.9,1230.7 656.4,1229.8 669.7,1217.8 678.6,1212.5 681.7,1210.0 692.8,1197.6 702.9,1188.2 713.2,1175.0 724.7,1163.8 733.5,1152.4 736.5,1149.3 738.8,1147.6 741.1,1146.7 746.4,1146.8 755.7,1148.6 760.0,1150.9 763.5,1154.1 771.7,1163.5 778.7,1169.8 781.1,1172.5 785.4,1179.5 795.0,1199.7 804.3,1214.7 815.8,1236.9 819.2,1241.8 827.5,1251.7 835.9,1263.6 839.3,1267.8 842.9,1270.9 850.7,1275.7 859.3,1283.1 862.9,1285.4 873.0,1288.7 882.3,1294.6 885.2,1295.9 894.2,1297.3 899.4,1299.4" stroke="#4398d1" stroke-dashoffset="21.5"/>
<path d="M899.4,1299.4L904.6,1302.2 907.7,1303.3 918.5,1303.2 927.8,1304.8 930.7,1304.0 937.9,1299.4 942.4,1297.5 947.3,1296.4 956.6,1295.6 960.6,1294.9 965.1,1292.6 969.2,1288.4 973.4,1281.9 977.2,1274.1 983.4,1256.5 985.7,1244.7 986.9,1215.0 990.2,1170.0 992.2,1129.1 996.2,1082.9 997.7,1071.9 999.0,1068.0 1000.2,1071.4 1001.7,1081.4 1006.5,1133.3 1009.6,1179.2 1012.3,1241.9 1016.1,1274.9 1019.5,1289.3 1025.8,1303.4 1029.8,1309.2 1036.0,1313.9 1041.3,1318.9 1043.1,1320.0 1044.8,1320.3 1046.7,1319.4 1051.5,1315.5 1054.6,1314.6 1057.8,1316.2 1063.2,1320.8 1065.4,1321.5 1066.5,1321.4 1068.8,1320.2 1074.4,1315.2 1076.6,1314.4 1078.9,1315.0 1085.4,1320.6 1088.1,1321.7 1090.9,1320.9 1096.5,1316.0 1099.4,1314.9 1102.3,1315.9 1108.2,1321.0 1111.2,1321.8 1114.2,1320.4 1119.3,1315.8 1122.4,1314.7 1125.5,1316.1 1130.7,1320.6 1133.9,1321.6 1137.1,1320.0 1142.4,1315.3 1144.6,1314.5 1147.8,1315.7 1153.7,1320.7 1156.5,1321.5 1159.4,1320.1 1164.4,1315.7 1167.4,1314.5 1169.4,1315.0 1175.6,1320.2 1178.7,1321.5 1181.9,1320.2 1187.2,1315.6 1190.4,1314.5 1192.5,1315.3 1197.8,1319.9 1201.0,1321.5 1204.2,1320.5 1209.5,1315.8 1212.7,1314.5 1214.8,1315.1 1220.9,1320.3 1224.0,1321.5 1227.0,1320.4 1232.9,1315.3 1235.7,1314.5 1238.6,1315.8 1244.0,1320.6 1246.6,1321.5 1249.2,1320.7 1254.5,1316.0 1257.8,1314.5 1260.9,1315.7 1265.8,1320.2 1268.7,1321.6 1271.5,1321.0 1278.0,1315.6 1280.8,1314.8 1283.6,1315.9 1288.4,1320.2 1291.4,1321.7 1294.5,1320.8 1300.0,1315.8" stroke="#4398d1" stroke-dashoffset="21.4"/>
<path d="M1300.0,1315.8L1302.7,1314.4 1304.5,1314.6 1306.4,1315.6 1311.4,1319.9 1314.5,1321.0 1317.6,1319.7 1323.1,1314.7 1325.3,1313.7 1326.4,1313.6 1328.7,1314.5 1334.4,1319.3 1336.6,1320.1 1337.8,1320.1 1340.1,1318.9 1345.8,1313.6 1348.0,1312.6 1349.2,1312.6 1351.4,1313.5 1356.9,1318.0 1360.2,1318.8 1363.3,1317.0 1368.4,1312.1 1371.3,1310.9 1374.1,1311.7 1380.2,1316.1 1381.7,1316.5 1383.2,1316.2 1385.4,1314.8 1391.0,1308.6 1393.1,1307.1 1395.1,1306.7 1398.6,1308.2 1401.1,1308.1 1403.4,1306.6 1408.8,1301.7 1412.9,1297.0 1418.6,1289.2 1426.4,1273.7 1427.9,1271.5 1429.5,1270.2 1430.9,1269.9 1432.7,1270.5 1438.0,1275.0 1439.9,1277.6 1444.5,1286.0 1445.5,1286.9 1446.4,1286.8 1447.5,1285.3 1448.8,1281.4 1451.6,1266.5 1453.1,1252.9 1456.6,1200.1 1459.4,1169.9 1462.2,1147.9 1468.5,1116.1 1470.2,1096.1 1472.5,961.1 1475.9,854.8 1477.1,798.5 1478.2,643.8 1479.9,524.2 1480.8,382.3 1481.7,315.2 1486.5,140.9 1488.7,87.5 1490.2,69.7 1491.0,78.6 1491.7,106.0 1494.0,298.0 1499.1,582.8 1502.6,808.3 1505.3,918.4 1510.9,1008.4 1512.2,1021.6 1517.4,1062.0 1521.5,1130.8 1524.2,1167.8 1526.0,1184.4 1529.2,1199.8 1531.2,1206.5 1533.8,1212.9 1545.6,1231.0 1552.4,1249.8 1555.8,1255.9 1563.4,1264.7 1565.9,1267.0 1568.5,1267.6 1573.1,1265.2 1575.1,1264.7 1578.2,1267.3 1583.5,1274.4 1585.6,1275.8 1586.6,1275.9 1588.6,1275.0 1594.6,1267.9 1596.6,1266.7 1597.7,1266.6 1599.8,1267.8 1605.8,1275.8 1608.7,1277.7 1609.7,1277.6 1611.8,1276.5 1617.9,1270.0 1620.0,1269.6 1621.0,1270.0 1623.1,1271.9 1628.9,1280.8 1631.7,1282.8 1634.5,1282.1 1640.2,1277.5 1642.1,1277.2 1643.0,1277.5 1645.9,1280.4 1650.7,1288.1 1653.6,1290.6 1654.6,1290.8 1656.5,1290.0 1662.4,1283.6 1664.4,1282.5 1665.4,1282.4 1668.4,1284.5 1674.5,1292.4 1675.6,1293.1 1677.6,1293.3 1679.5,1292.1 1685.6,1285.1 1687.6,1284.2 1688.7,1284.4 1690.7,1285.8 1695.9,1292.5 1698.0,1294.2 1699.0,1294.5 1700.0,1294.4 1702.1,1293.0 1707.0,1286.3 1710.1,1283.8 1711.2,1283.7 1713.3,1284.7 1718.7,1290.6 1720.9,1291.8 1721.9,1291.8 1723.0,1291.3 1725.0,1289.2 1729.9,1281.4 1732.6,1278.4 1735.0,1277.6 1737.6,1279.0 1739.2,1279.3 1741.4,1278.1 1749.3,1265.4 1754.3,1249.0 1756.0,1245.0 1759.9,1239.8 1765.1,1236.1 1767.0,1236.0 1768.7,1237.6 1777.4,1257.2 1780.1,1260.4 1788.5,1268.4 1790.6,1268.8 1791.8,1268.1 1800.0,1259.1" stroke="#4398d1" stroke-dashoffset="11.3"/>
</g>
<g fill="none" stroke-width="9" stroke-linecap="round" stroke-dasharray="16 27">
<line x1="499.7" y1="124.5" x2="645" y2="124.5" stroke="#505050"/><line x1="499.7" y1="202.8" x2="645" y2="202.8" stroke="#0071e4"/><line x1="499.7" y1="281.2" x2="645" y2="281.2" stroke="#dc9a00"/><line x1="499.7" y1="359.5" x2="645" y2="359.5" stroke="#8e8e00"/><line x1="499.7" y1="437.8" x2="645" y2="437.8" stroke="#4398d1"/>
</g>
<g font-size="63.1">
<text x="640.6" y="144.8">H2=2.02μm</text><text x="640.6" y="223.1">H2=3.02μm</text><text x="640.6" y="301.5">H2=4.52μm</text><text x="640.6" y="379.8">H2=6.02μm</text><text x="640.6" y="458.1">H2=7.02μm</text>
</g>
</svg>
</body></html>
